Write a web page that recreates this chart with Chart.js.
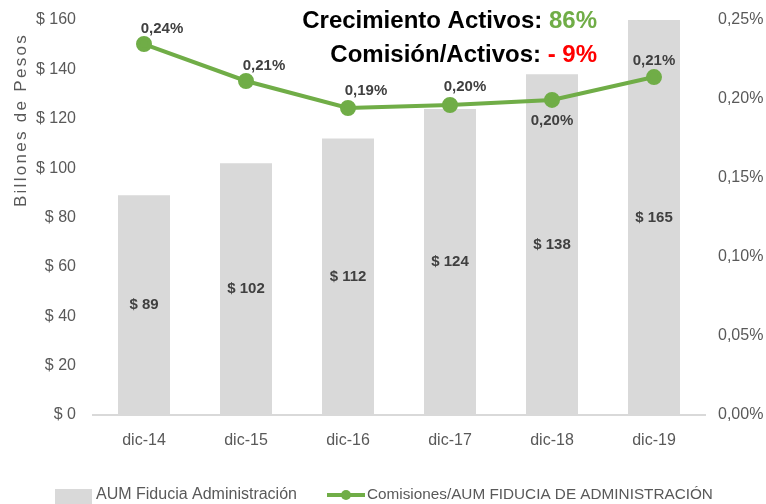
<!DOCTYPE html>
<html>
<head>
<meta charset="utf-8">
<script src="https://cdn.jsdelivr.net/npm/chart.js@4.4.1/dist/chart.umd.min.js"></script>
<style>html,body{margin:0;padding:0;background:#fff}</style>
</head>
<body>
<canvas id="grafico" width="766" height="504"></canvas>
<script>
// datos
const categorias = ['dic-14', 'dic-15', 'dic-16', 'dic-17', 'dic-18', 'dic-19']
const aum = [89, 102, 112, 124, 138, 165]
const comision = [0.2348, 0.2114, 0.1943, 0.1962, 0.1994, 0.2139]
const comisionTexto = ['0,24%', '0,21%', '0,19%', '0,20%', '0,20%', '0,21%']

// ubicación de las etiquetas de la línea (dx, dy)
const desplazamiento = [[18, -15], [18, -15], [18, -17], [15, -18], [0, 21], [0, -16]]

const FUENTE = '"Liberation Sans", Arial, sans-serif'
const GRIS = '#595959'
const VERDE = '#70AD47'

Chart.defaults.font.family = FUENTE
Chart.defaults.color = GRIS

const dibujarTexto = (ctx, partes, xDerecha, y) => {
  // partes: [[texto, color], ...] alineado a la derecha
  let x = xDerecha
  for (let i = partes.length - 1; i >= 0; i--) {
    const [t, c] = partes[i]
    ctx.fillStyle = c
    ctx.fillText(t, x, y)
    x -= ctx.measureText(t).width
  }
}

const extras = {
  id: 'extras',
  afterDatasetsDraw(chart) {
    const ctx = chart.ctx
    const area = chart.chartArea
    ctx.save()

    // etiquetas de barras
    ctx.font = 'bold 15px ' + FUENTE
    ctx.fillStyle = '#404040'
    ctx.textAlign = 'center'
    ctx.textBaseline = 'middle'
    chart.getDatasetMeta(1).data.forEach((bar, i) => {
      const top = Math.max(bar.y, area.top)
      ctx.fillText('$ ' + aum[i], bar.x, (top + bar.base) / 2)
    })

    // etiquetas de la línea
    chart.getDatasetMeta(0).data.forEach((p, i) => {
      const [dx, dy] = desplazamiento[i]
      ctx.fillText(comisionTexto[i], p.x + dx, p.y + dy)
    })

    // títulos
    ctx.font = 'bold 24px ' + FUENTE
    ctx.textAlign = 'right'
    dibujarTexto(ctx, [['Crecimiento Activos: ', '#000'], ['86%', VERDE]], 597, 21)
    dibujarTexto(ctx, [['Comisión/Activos: ', '#000'], ['- 9%', '#FF0000']], 597, 55)

    // título eje
    ctx.save()
    ctx.translate(21, 120)
    ctx.rotate(-Math.PI / 2)
    ctx.font = '17px ' + FUENTE
    ctx.letterSpacing = '2.3px'
    ctx.textAlign = 'center'
    ctx.fillStyle = GRIS
    ctx.fillText('Billones de Pesos', 0, 0)
    ctx.restore()

    // leyenda
    const yl = 495
    ctx.textAlign = 'left'
    ctx.fillStyle = '#D9D9D9'
    ctx.fillRect(55, 489, 37, 15)
    ctx.font = '16px ' + FUENTE
    ctx.fillStyle = GRIS
    ctx.fillText('AUM Fiducia Administración', 96, yl)
    ctx.strokeStyle = VERDE
    ctx.lineWidth = 4
    ctx.beginPath()
    ctx.moveTo(327, yl)
    ctx.lineTo(365, yl)
    ctx.stroke()
    ctx.fillStyle = VERDE
    ctx.beginPath()
    ctx.arc(346, yl, 5, 0, Math.PI * 2)
    ctx.fill()
    ctx.font = '15.3px ' + FUENTE
    ctx.fillStyle = GRIS
    ctx.fillText('Comisiones/AUM FIDUCIA DE ADMINISTRACIÓN', 367, yl)

    ctx.restore()
  }
}

const data = {
  labels: categorias,
  datasets: [{
    type: 'line',
    label: 'Comisiones/AUM FIDUCIA DE ADMINISTRACIÓN',
    data: comision,
    yAxisID: 'y1',
    borderColor: VERDE,
    backgroundColor: VERDE,
    borderWidth: 4,
    pointRadius: 6,
    pointHoverRadius: 6,
    tension: 0,
    order: 0
  }, {
    type: 'bar',
    label: 'AUM Fiducia Administración',
    data: aum,
    yAxisID: 'y',
    backgroundColor: '#D9D9D9',
    categoryPercentage: 1,
    barPercentage: 0.51,
    order: 1
  }]
}

const config = {
  data,
  options: {
    responsive: false,
    animation: false,
    layout: { padding: { top: 20, left: 0, right: 0, bottom: 0 } },
    plugins: { legend: { display: false }, tooltip: { enabled: false } },
    scales: {
      x: {
        grid: { display: false, drawTicks: false },
        border: { display: true, color: '#D9D9D9', width: 2 },
        ticks: { color: GRIS, font: { size: 16 }, padding: 16 },
        afterFit(s) { s.height = 89 }
      },
      y: {
        position: 'left',
        min: 0,
        max: 160,
        grid: { display: false, drawTicks: false },
        border: { display: false },
        ticks: { stepSize: 20, color: GRIS, font: { size: 16 }, padding: 17, callback: v => '$ ' + v },
        afterFit(s) { s.width = 93; s.paddingTop = 0; s.paddingBottom = 0 }
      },
      y1: {
        position: 'right',
        min: 0,
        max: 0.25,
        grid: { display: false, drawTicks: false },
        border: { display: false },
        ticks: { stepSize: 0.05, color: GRIS, font: { size: 16 }, padding: 13, callback: v => v.toFixed(2).replace('.', ',') + '%' },
        afterFit(s) { s.width = 61; s.paddingTop = 0; s.paddingBottom = 0 }
      }
    }
  },
  plugins: [extras]
}

const graph = new Chart(document.getElementById('grafico'), config)
</script>
</body>
</html>
